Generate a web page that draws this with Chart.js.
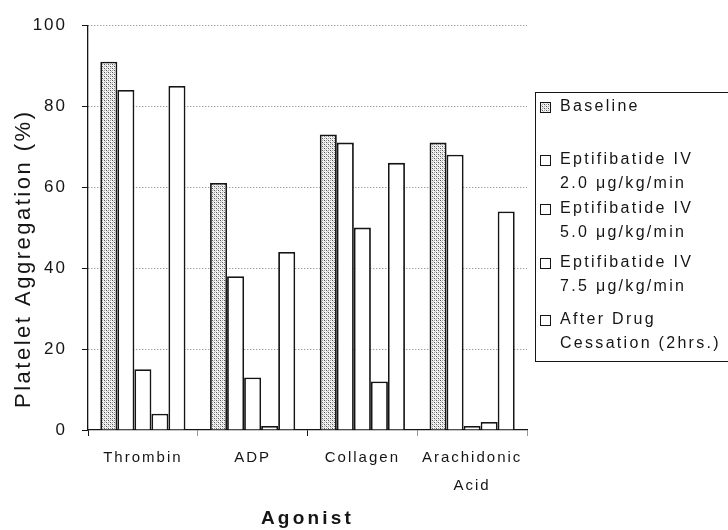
<!DOCTYPE html>
<html>
<head>
<meta charset="utf-8">
<title>Platelet Aggregation by Agonist</title>
<script src="https://cdn.jsdelivr.net/npm/chart.js@4.4.1/dist/chart.umd.min.js"></script>
<style>
  html, body { margin: 0; padding: 0; background: #fff; }
  #wrap { position: relative; width: 728px; height: 530px; }
</style>
</head>
<body>
<div id="wrap"><canvas id="chart"></canvas></div>
<script>
// Agonist categories (x axis)
const categories = ['Thrombin', 'ADP', 'Collagen', ['Arachidonic', 'Acid']];

// Platelet aggregation (%) per agonist for each treatment phase
const baseline    = [91, 61, 73, 71];
const eptif20     = [84, 38, 71, 68];
const eptif50     = [15, 13, 50, 1];
const eptif75     = [4, 1, 12, 2];
const afterStop   = [85, 44, 66, 54];

// Legend text, one array of lines per series
const seriesNames = [
  ['Baseline'],
  ['Eptifibatide IV', '2.0 \u03bcg/kg/min'],
  ['Eptifibatide IV', '5.0 \u03bcg/kg/min'],
  ['Eptifibatide IV', '7.5 \u03bcg/kg/min'],
  ['After Drug', 'Cessation (2hrs.)']
];

// Y axis tick values
const yTicks = [0, 20, 40, 60, 80, 100];

const FONT = '"Liberation Sans", Arial, Helvetica, sans-serif';
const INK = '#151515';

// Stippled grey fill used for the baseline bars
function makeStipple() {
  const p = document.createElement('canvas');
  p.width = 4; p.height = 4;
  const c = p.getContext('2d');
  c.fillStyle = '#f4f4f4';
  c.fillRect(0, 0, 4, 4);
  c.fillStyle = '#555555';
  c.fillRect(0, 0, 1, 1);
  c.fillRect(2, 2, 1, 1);
  c.fillStyle = '#a0a0a0';
  c.fillRect(2, 0, 1, 1);
  c.fillRect(0, 2, 1, 1);
  c.fillStyle = '#c8c8c8';
  c.fillRect(1, 1, 1, 1);
  c.fillRect(3, 3, 1, 1);
  return document.getElementById('chart').getContext('2d').createPattern(p, 'repeat');
}
const stipple = makeStipple();

const seriesValues = [baseline, eptif20, eptif50, eptif75, afterStop];
const fills = [stipple, '#ffffff', '#ffffff', '#ffffff', '#ffffff'];

const datasets = seriesValues.map((vals, i) => ({
  label: seriesNames[i].join(' '),
  data: vals,
  backgroundColor: fills[i],
  borderColor: INK,
  borderWidth: 1.8,
  categoryPercentage: 0.776,
  barPercentage: 1.0
}));

// Wider letter spacing for axis texts
const spacing = {
  x: { labels: '2px', title: '3.2px' },
  y: { labels: '2px', title: '0px' }
};
function wrapSpacing(scale, method, sp) {
  const orig = scale[method];
  scale[method] = function (...args) {
    const c = this.ctx;
    const prev = c.letterSpacing;
    c.letterSpacing = sp;
    try { return orig.apply(this, args); }
    finally { c.letterSpacing = prev; }
  };
}
const spacingPlugin = {
  id: 'axisSpacing',
  beforeDraw(chart) {
    Object.values(chart.scales).forEach(s => {
      if (s.__spaced || !spacing[s.id]) return;
      s.__spaced = true;
      wrapSpacing(s, 'drawLabels', spacing[s.id].labels);
      wrapSpacing(s, 'drawTitle', spacing[s.id].title);
    });
  }
};

// Rotated y-axis title
const yTitlePlugin = {
  id: 'yTitle',
  afterDraw(chart) {
    const c = chart.ctx;
    c.save();
    c.letterSpacing = '2.5px';
    c.font = '22px ' + FONT;
    c.fillStyle = INK;
    c.textAlign = 'left';
    c.textBaseline = 'alphabetic';
    c.translate(29.5, 408);
    c.rotate(-Math.PI / 2);
    c.fillText('Platelet Aggregation (%)', 0, 0);
    c.restore();
  }
};

// Boxed legend at the right, with multi-line entries
const legendPlugin = {
  id: 'boxLegend',
  afterDraw(chart) {
    const c = chart.ctx;
    const firstLineY = [107, 160, 209, 263, 320];
    const lineGap = 24;
    c.save();
    // frame
    c.strokeStyle = INK;
    c.lineWidth = 1;
    c.strokeRect(535.5, 92.5, 230, 269);
    c.font = '16px ' + FONT;
    c.letterSpacing = '2.3px';
    c.fillStyle = INK;
    c.textAlign = 'left';
    c.textBaseline = 'middle';
    chart.data.datasets.forEach((ds, i) => {
      const y0 = firstLineY[i];
      // marker
      c.fillStyle = ds.backgroundColor;
      c.fillRect(540, y0 - 5, 11, 11);
      c.strokeStyle = INK;
      c.lineWidth = 1;
      c.strokeRect(540.5, y0 - 4.5, 10, 10);
      c.fillStyle = INK;
      seriesNames[i].forEach((line, k) => {
        c.fillText(line, 560, y0 + k * lineGap);
      });
    });
    c.restore();
  }
};

new Chart(document.getElementById('chart'), {
  type: 'bar',
  data: { labels: categories, datasets },
  plugins: [spacingPlugin, yTitlePlugin, legendPlugin],
  options: {
    responsive: true,
    maintainAspectRatio: false,
    animation: false,
    devicePixelRatio: 1,
    layout: { padding: { top: 23, right: 201, left: 0, bottom: 0 } },
    plugins: {
      legend: { display: false },
      tooltip: { enabled: false },
      title: { display: false }
    },
    scales: {
      x: {
        grid: {
          offset: true,
          drawOnChartArea: true,
          color: ctx => (ctx.index === categories.length ? '#8a8a8a' : 'rgba(0,0,0,0)'),
          lineWidth: 1,
          tickLength: 6,
          tickColor: ctx => (ctx.index % 2 === 0 ? INK : '#9a9a9a'),
          tickBorderDash: []
        },
        border: { display: true, color: INK, width: 1.3, dash: [1, 2] },
        ticks: {
          color: INK,
          padding: 8,
          font: { family: FONT, size: 15, lineHeight: 1.85 },
          maxRotation: 0,
          autoSkip: false
        },
        title: {
          display: true,
          text: 'Agonist',
          color: INK,
          font: { family: FONT, size: 19, weight: 'bold', lineHeight: 1.2 },
          padding: { top: 0, bottom: 0 }
        },
        afterFit(scale) { scale.height = 100; }
      },
      y: {
        min: 0,
        max: 100,
        afterBuildTicks(scale) { scale.ticks = yTicks.map(v => ({ value: v })); },
        grid: {
          color: ctx => (ctx.tick && ctx.tick.value === 0 ? 'rgba(0,0,0,0)' : '#7a7a7a'),
          lineWidth: 1,
          tickLength: 6,
          tickColor: INK,
          tickBorderDash: []
        },
        border: { display: true, color: INK, width: 1.3, dash: [1, 2] },
        ticks: {
          color: INK,
          padding: 15,
          font: { family: FONT, size: 17 }
        },
        title: { display: false },
        afterFit(scale) { scale.width = 88; }
      }
    }
  }
});
</script>
</body>
</html>
